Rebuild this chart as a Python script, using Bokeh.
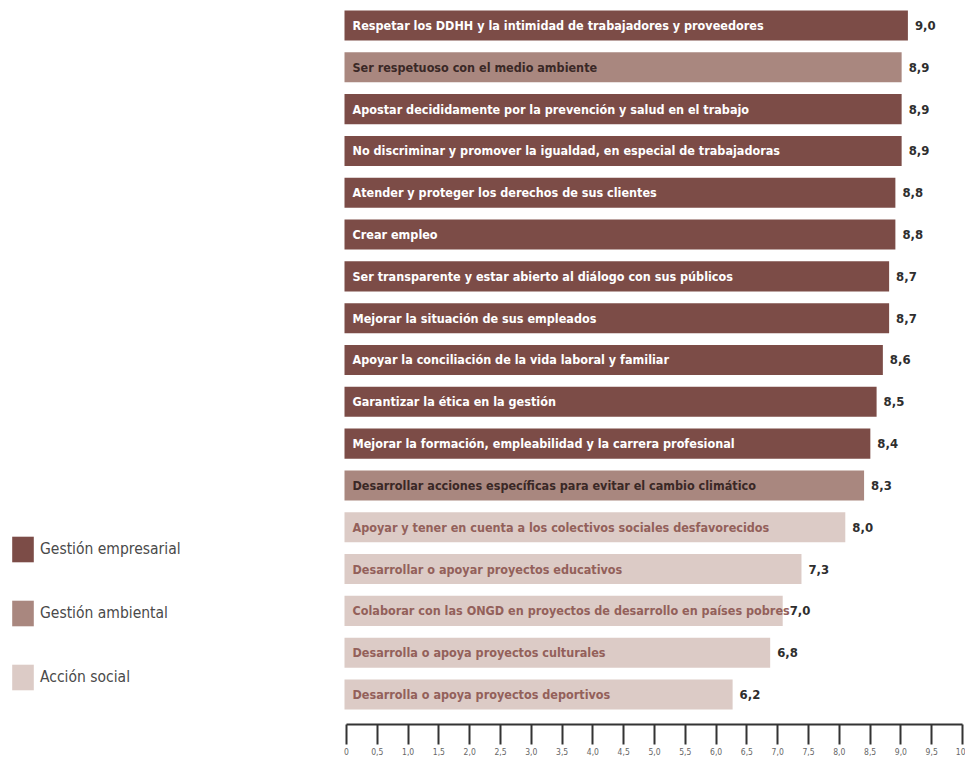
from bokeh.plotting import figure
from bokeh.models import (ColumnDataSource, Range1d, LinearAxis, FixedTicker,
                          Legend, LegendItem)
from bokeh.core.properties import value
from bokeh.embed import file_html
from bokeh.resources import INLINE

# ---------------- data ----------------
categories = [
    "Respetar los DDHH y la intimidad de trabajadores y proveedores",
    "Ser respetuoso con el medio ambiente",
    "Apostar decididamente por la prevención y salud en el trabajo",
    "No discriminar y promover la igualdad, en especial de trabajadoras",
    "Atender y proteger los derechos de sus clientes",
    "Crear empleo",
    "Ser transparente y estar abierto al diálogo con sus públicos",
    "Mejorar la situación de sus empleados",
    "Apoyar la conciliación de la vida laboral y familiar",
    "Garantizar la ética en la gestión",
    "Mejorar la formación, empleabilidad y la carrera profesional",
    "Desarrollar acciones específicas para evitar el cambio climático",
    "Apoyar y tener en cuenta a los colectivos sociales desfavorecidos",
    "Desarrollar o apoyar proyectos educativos",
    "Colaborar con las ONGD en proyectos de desarrollo en países pobres",
    "Desarrolla o apoya proyectos culturales",
    "Desarrolla o apoya proyectos deportivos",
]
values = [9.0, 8.9, 8.9, 8.9, 8.8, 8.8, 8.7, 8.7, 8.6, 8.5, 8.4, 8.3,
          8.0, 7.3, 7.0, 6.8, 6.2]
groups = ["Gestión empresarial", "Gestión ambiental", "Gestión empresarial",
          "Gestión empresarial", "Gestión empresarial", "Gestión empresarial",
          "Gestión empresarial", "Gestión empresarial", "Gestión empresarial",
          "Gestión empresarial", "Gestión empresarial", "Gestión ambiental",
          "Acción social", "Acción social", "Acción social", "Acción social",
          "Acción social"]
group_names = ["Gestión empresarial", "Gestión ambiental", "Acción social"]
tick_values = [0, 0.5, 1, 1.5, 2, 2.5, 3, 3.5, 4, 4.5, 5, 5.5, 6, 6.5, 7,
               7.5, 8, 8.5, 9, 9.5, 10]
tick_labels = ["0", "0,5", "1,0", "1,5", "2,0", "2,5", "3,0", "3,5", "4,0",
               "4,5", "5,0", "5,5", "6,0", "6,5", "7,0", "7,5", "8,0", "8,5",
               "9,0", "9,5", "10"]

# ---------------- styles ----------------
bar_colors = {"Gestión empresarial": "#7c4c47",
              "Gestión ambiental": "#a9877f",
              "Acción social": "#dccbc6"}
text_colors = {"Gestión empresarial": "#ffffff",
               "Gestión ambiental": "#3a2826",
               "Acción social": "#93605a"}
FONT = "DejaVu Sans Condensed"

FW, FH = 965, 724
p = figure(frame_width=FW, frame_height=FH, output_backend="svg",
           toolbar_location=None, x_axis_location=None, y_axis_location=None,
           min_border_left=0, min_border_right=0, min_border_top=0,
           min_border_bottom=0,
           x_range=Range1d(-344 / 62.6, (FW - 344) / 62.6),
           y_range=Range1d(len(values) - 1 + (FH - 694) / 41.8, -25 / 41.8))
p.outline_line_color = None
p.xgrid.visible = False
p.ygrid.visible = False
p.background_fill_color = "white"
p.border_fill_color = "white"

legend_items = []
for g in group_names:
    idx = [i for i, gg in enumerate(groups) if gg == g]
    src = ColumnDataSource(dict(
        y=idx,
        v=[values[i] for i in idx],
        cat=[categories[i] for i in idx],
        lab=[f"{values[i]:.1f}".replace(".", ",") for i in idx],
    ))
    r = p.hbar(y="y", right="v", left=0, height=0.72, source=src,
               fill_color=bar_colors[g], line_color=None)
    p.text(x=0, y="y", text="cat", source=src, x_offset=8,
           text_baseline="middle", text_align="left",
           text_font=value(FONT), text_font_style="bold",
           text_font_size="12.5px", text_color=text_colors[g])
    p.text(x="v", y="y", text="lab", source=src, x_offset=7,
           text_baseline="middle", text_align="left",
           text_font=value(FONT), text_font_style="bold",
           text_font_size="13px", text_color="#2e2e2e")
    legend_items.append(LegendItem(label=g, renderers=[r]))

legend = Legend(items=legend_items, location=(9, 31),
                orientation="vertical",
                glyph_width=27, glyph_height=32, label_standoff=4,
                spacing=32, padding=0, margin=0,
                border_line_color=None, background_fill_alpha=0,
                label_text_font=FONT, label_text_font_size="15.5px",
                label_text_color="#4a4a4a", label_height=32)
p.add_layout(legend)

# axis on its own scale
p.extra_x_ranges = {"axis": Range1d(-346 / 61.6, (FW - 346) / 61.6)}
ax = LinearAxis(x_range_name="axis", bounds=(0, 10),
                ticker=FixedTicker(ticks=tick_values),
                major_label_overrides={t: l for t, l in zip(tick_values, tick_labels)},
                axis_line_color="#333333", axis_line_width=2,
                major_tick_line_color="#333333", major_tick_line_width=2,
                major_tick_out=20, major_tick_in=0,
                minor_tick_line_color=None,
                major_label_standoff=3,
                major_label_text_font=FONT,
                major_label_text_font_size="8.5px",
                major_label_text_color="#666666")
p.add_layout(ax, "below")

open("out.html", "w").write(file_html(p, INLINE))
